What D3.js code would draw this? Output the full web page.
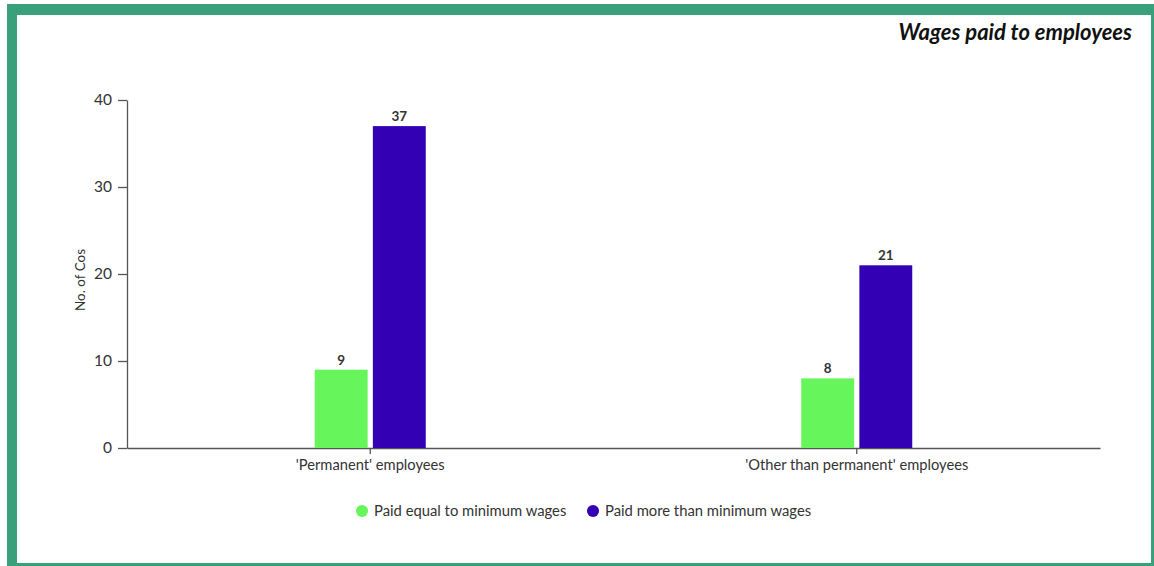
<!DOCTYPE html>
<html>
<head>
<meta charset="utf-8">
<script src="https://cdn.jsdelivr.net/npm/d3@7"></script>
<style>
  html, body { margin: 0; padding: 0; background: #ffffff; }
  svg { display: block; font-family: Lato, "Open Sans", sans-serif; }
</style>
</head>
<body>
<svg id="chart" width="1154" height="566"></svg>
<script>
// Wage data: number of companies by employee type
const categories = ["'Permanent' employees", "'Other than permanent' employees"];
const seriesNames = ["Paid equal to minimum wages", "Paid more than minimum wages"];
const paidEqual = [9, 8];
const paidMore = [37, 21];
const yTicks = [0, 10, 20, 30, 40];
const seriesColors = ["#66F55A", "#3300B3"];

const svg = d3.select("#chart");
const W = 1154, H = 566;

// framed card
svg.append("rect").attr("x", 7).attr("y", 4).attr("width", W - 7).attr("height", H - 4).attr("fill", "#38A07A");
svg.append("rect").attr("x", 17).attr("y", 15).attr("width", 1151 - 17).attr("height", 563 - 15).attr("fill", "#ffffff");

svg.append("text")
  .attr("x", 1132).attr("y", 39.5)
  .attr("text-anchor", "end")
  .attr("font-size", 22).attr("font-weight", 700).attr("font-style", "italic")
  .attr("fill", "#111")
  .text("Wages paid to employees");

const plot = { left: 127, right: 1100, top: 100, bottom: 448 };

const x0 = d3.scaleBand().domain(categories).range([plot.left, plot.right]).padding(0);
const groupWidth = 111;
const x1 = d3.scaleBand().domain(seriesNames).range([0, groupWidth]).paddingInner(0.09);
const y = d3.scaleLinear().domain([0, 40]).range([plot.bottom, plot.top]);

// y axis
const yAxis = svg.append("g")
  .attr("transform", `translate(${plot.left},0)`)
  .call(d3.axisLeft(y).tickValues(yTicks).tickSize(9).tickSizeOuter(0).tickPadding(6));
yAxis.select(".domain").attr("stroke", "#555").attr("stroke-width", 1.3);
yAxis.selectAll(".tick line").attr("stroke", "#555").attr("stroke-width", 1.3);
yAxis.selectAll(".tick text").attr("font-size", 15.5).attr("fill", "#333").attr("font-family", "Lato, sans-serif");

// x axis
const xAxis = svg.append("g")
  .attr("transform", `translate(0,${plot.bottom})`)
  .call(d3.axisBottom(x0).tickSize(6).tickSizeOuter(0).tickPadding(6));
xAxis.select(".domain").attr("stroke", "#555").attr("stroke-width", 1.3);
xAxis.selectAll(".tick line").attr("stroke", "#555").attr("stroke-width", 1.3);
xAxis.selectAll(".tick text").attr("font-size", 14.7).attr("fill", "#333").attr("font-family", "Lato, sans-serif");

// y axis title
svg.append("text")
  .attr("transform", `translate(85,${(plot.top + plot.bottom) / 2 + 6}) rotate(-90)`)
  .attr("text-anchor", "middle")
  .attr("font-size", 13.5).attr("fill", "#333")
  .text("No. of Cos");

// bars
const rows = categories.map((c, i) => ({ category: c, values: [paidEqual[i], paidMore[i]] }));
const groups = svg.append("g").selectAll("g").data(rows).join("g")
  .attr("transform", d => `translate(${x0(d.category) + x0.bandwidth() / 2 - groupWidth / 2},0)`);

groups.selectAll("rect")
  .data(d => d.values.map((v, k) => ({ key: seriesNames[k], value: v, k })))
  .join("rect")
  .attr("x", d => x1(d.key))
  .attr("y", d => y(d.value))
  .attr("width", x1.bandwidth())
  .attr("height", d => y(0) - y(d.value))
  .attr("fill", d => seriesColors[d.k]);

groups.selectAll("text.val")
  .data(d => d.values.map((v, k) => ({ key: seriesNames[k], value: v })))
  .join("text")
  .attr("class", "val")
  .attr("x", d => x1(d.key) + x1.bandwidth() / 2)
  .attr("y", d => y(d.value) - 5)
  .attr("text-anchor", "middle")
  .attr("font-size", 13.5).attr("font-weight", 700).attr("fill", "#333")
  .text(d => d.value);

// legend
const legendX = [362, 593];
const legend = svg.append("g").selectAll("g").data(seriesNames).join("g")
  .attr("transform", (d, i) => `translate(${legendX[i]},511)`);
legend.append("circle").attr("r", 6).attr("fill", (d, i) => seriesColors[i]);
legend.append("text").attr("x", 12).attr("y", 5)
  .attr("font-size", 14.8).attr("fill", "#333")
  .text(d => d);
</script>
</body>
</html>
